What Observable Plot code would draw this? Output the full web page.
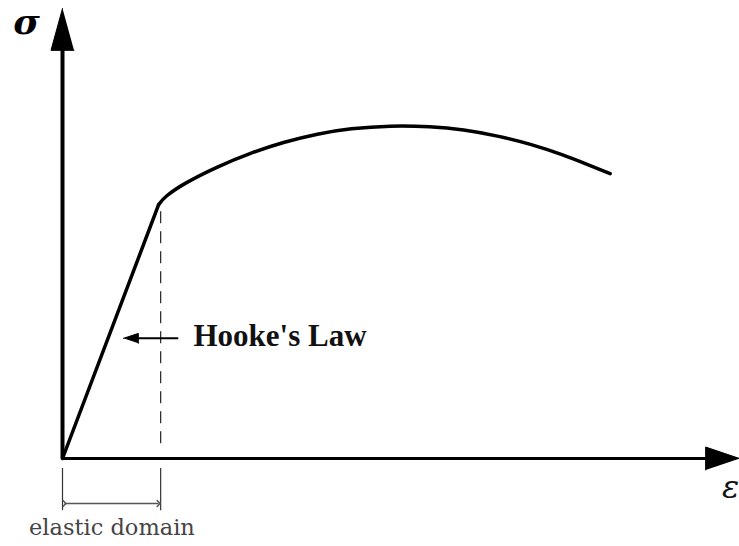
<!DOCTYPE html>
<html>
<head>
<meta charset="utf-8">
<script src="https://cdn.jsdelivr.net/npm/d3@7"></script>
<script src="https://cdn.jsdelivr.net/npm/@observablehq/plot@0.6"></script>
<style>
  html, body { margin: 0; padding: 0; background: #fff; }
  #chart svg { display: block; }
</style>
</head>
<body>
<div id="chart"></div>
<script>
// Stress–strain curve (schematic units, 0–100 on both axes)
const strain = [0, 14.2, 15.1, 17.9, 22.9, 27.8, 32.6, 37.7, 42.5, 48.4, 54.4, 59.2, 64.3, 69.1, 74.0, 77.5, 80.9];
const stress = [0, 56.4, 58.2, 61.1, 64.9, 67.9, 70.3, 72.2, 73.35, 74.0, 73.8, 73.1, 71.7, 69.9, 67.45, 65.35, 63.3];
const elasticLimit = 14.5;
const axisLabels = ["σ", "ε"];
const annotation = "Hooke's Law";
const domainLabel = "elastic domain";

const pts = strain.map((x, i) => ({x, y: stress[i]}));
const elastic = pts.slice(0, 2);
const plastic = pts.slice(1);

// axis extents and arrow-head sizes
const xMax = 100, yMax = 100;
const headLenX = 5.0, headHalfX = 2.55;   // x-axis head (in x / y units)
const headLenY = 9.3, headHalfY = 1.7;    // y-axis head (in y / x units)
const xHead = [{x: xMax, y: 0}, {x: xMax - headLenX, y: headHalfX}, {x: xMax - headLenX, y: -headHalfX}];
const yHead = [{x: 0, y: yMax}, {x: -headHalfY, y: yMax - headLenY}, {x: headHalfY, y: yMax - headLenY}];

// Hooke's law pointer
const hookeY = 26.7, hookeFrom = 17.1, hookeTo = 9.0;
const hHeadLen = 2.2, hHeadHalf = 1.1;
const hHead = [{x: hookeTo, y: hookeY}, {x: hookeTo + hHeadLen, y: hookeY + hHeadHalf}, {x: hookeTo + hHeadLen, y: hookeY - hHeadHalf}];

const chart = Plot.plot({
  width: 739,
  height: 546,
  marginLeft: 62,
  marginRight: 0,
  marginTop: 8,
  marginBottom: 88,
  x: {domain: [0, xMax], axis: null},
  y: {domain: [0, yMax], axis: null},
  marks: [
    // axes
    Plot.link([0], {x1: 0, x2: xMax - headLenX + 0.5, y1: 0, y2: 0, stroke: "black", strokeWidth: 3}),
    Plot.link([0], {x1: 0, x2: 0, y1: 0, y2: yMax - headLenY + 0.5, stroke: "black", strokeWidth: 4}),
    Plot.line(xHead, {x: "x", y: "y", fill: "black", stroke: "black", strokeWidth: 1, strokeLinejoin: "miter"}),
    Plot.line(yHead, {x: "x", y: "y", fill: "black", stroke: "black", strokeWidth: 1, strokeLinejoin: "miter"}),
    Plot.text([axisLabels[0]], {x: -5.3, y: 96.8, text: d => d, fontSize: 36, fontWeight: "bold", fontStyle: "italic", fontFamily: "DejaVu Serif", fill: "black"}),
    Plot.text([axisLabels[1]], {x: 97.4, y: -6.6, text: d => d, fontSize: 32, fontStyle: "italic", fontFamily: "DejaVu Serif", textAnchor: "start", fill: "#111"}),
    // dashed elastic limit
    Plot.ruleX([elasticLimit], {y1: 3.3, y2: 55.5, stroke: "#222", strokeWidth: 1.2, strokeDasharray: "12,8"}),
    // curve
    Plot.line(elastic, {x: "x", y: "y", stroke: "black", strokeWidth: 3.5}),
    Plot.line(plastic, {x: "x", y: "y", stroke: "black", strokeWidth: 3.5, curve: "basis"}),
    // Hooke's law pointer
    Plot.link([0], {x1: hookeFrom, x2: hookeTo + hHeadLen - 0.3, y1: hookeY, y2: hookeY, stroke: "black", strokeWidth: 2}),
    Plot.line(hHead, {x: "x", y: "y", fill: "black", stroke: "black", strokeWidth: 1}),
    Plot.text([annotation], {x: 19.35, y: 27.2, text: d => d, textAnchor: "start", fontSize: 31, fontWeight: "bold", fontFamily: "Liberation Serif", fill: "#111"}),
    // elastic domain dimension
    Plot.ruleX([0, elasticLimit], {y1: -2.2, y2: -11.6, stroke: "#333", strokeWidth: 1.2}),
    Plot.link([0], {x1: 0.3, x2: elasticLimit - 0.3, y1: -10, y2: -10, stroke: "#555", strokeWidth: 1.5, markerStart: "arrow", markerEnd: "arrow"}),
    Plot.text([domainLabel], {x: 7.3, y: -15.3, text: d => d, fontSize: 22.5, fontFamily: "DejaVu Serif", fill: "#444"})
  ]
});
chart.setAttribute("overflow", "visible");
document.getElementById("chart").append(chart);
</script>
</body>
</html>
